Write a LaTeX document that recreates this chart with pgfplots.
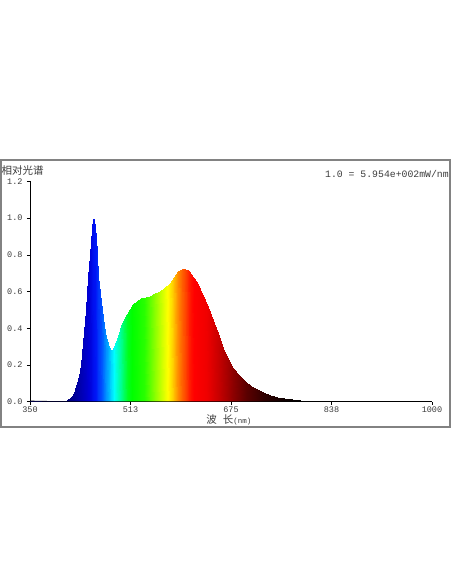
\documentclass[border=0pt]{standalone}
\usepackage{pgfplots}
\pgfplotsset{compat=1.18}
\usepackage{fontspec}
\setmonofont{Liberation Mono}
\newfontfamily\cjk{Noto Sans CJK SC}
\definecolor{txt}{RGB}{60,60,60}
\definecolor{frm}{RGB}{130,130,130}
\pgfplotsset{colormap={spectrum}{
 rgb255(350)=(0,0,100) rgb255(410)=(0,0,120) rgb255(430)=(0,0,170) rgb255(445)=(0,0,215)
 rgb255(455)=(0,20,245) rgb255(465)=(0,80,255) rgb255(472)=(0,140,255) rgb255(480)=(0,210,255)
 rgb255(486)=(0,255,255) rgb255(493)=(0,255,190) rgb255(500)=(0,255,110) rgb255(508)=(0,255,30)
 rgb255(515)=(0,255,0) rgb255(535)=(40,255,0) rgb255(550)=(130,255,0) rgb255(562)=(200,255,0)
 rgb255(572)=(255,255,0) rgb255(580)=(255,210,0) rgb255(588)=(255,150,0) rgb255(597)=(255,90,0)
 rgb255(607)=(255,30,0) rgb255(615)=(255,0,0) rgb255(635)=(240,0,0) rgb255(655)=(200,0,0)
 rgb255(675)=(150,0,0) rgb255(700)=(90,0,0) rgb255(730)=(45,0,0) rgb255(760)=(15,0,0)
 rgb255(790)=(0,0,0) rgb255(1000)=(0,0,0)}}
\pgfplotstableread{
x y
350 0
380 0
400 0
406 0
412 0
417 0
421 0
425 0
430 0
433 0
436 0
440.5 0
444.3 0
448 0
450.5 0
452.5 0
454 0
456 0
458 0
460.5 0
463 0
466 0
469.5 0
473 0
477 0
481 0
484 0
488 0
493 0
497 0
502 0
507 0
512 0
517 0
522.5 0
530 0
544 0
552 0
560 0
568 0
576 0
583 0
590 0
596 0
600 0
605 0
611 0
618 0
625 0
633 0
641 0
648 0
654.5 0
662.5 0
670 0
679 0
688 0
697.6 0
707 0
716.5 0
727 0
738 0
749 0
760 0
773 0
786 0
800 0
820 0
850 0
900 0
1000 0
350 0.004
380 0.002
400 0.002
406 0.006
412 0.012
417 0.025
421 0.046
425 0.085
430 0.14
433 0.2
436 0.318
440.5 0.5
444.3 0.682
448 0.864
450.5 0.95
452.5 0.995
454 0.995
456 0.9
458 0.80
460.5 0.682
463 0.59
466 0.5
469.5 0.41
473 0.355
477 0.30
481 0.278
484 0.285
488 0.315
493 0.36
497 0.41
502 0.45
507 0.48
512 0.505
517 0.53
522.5 0.548
530 0.563
544 0.578
552 0.59
560 0.603
568 0.625
576 0.648
583 0.68
590 0.71
596 0.722
600 0.722
605 0.715
611 0.695
618 0.66
625 0.615
633 0.555
641 0.49
648 0.43
654.5 0.375
662.5 0.29
670 0.235
679 0.185
688 0.145
697.6 0.113
707 0.088
716.5 0.067
727 0.052
738 0.038
749 0.027
760 0.019
773 0.013
786 0.009
800 0.006
820 0.004
850 0.003
900 0.002
1000 0.002
}\spec
\begin{document}
\begin{tikzpicture}
\useasboundingbox[fill=white] (0pt,0pt) rectangle (452pt,584pt);
\draw[frm, line width=1.2pt] (1pt,157pt) rectangle (450pt,424pt);
\begin{axis}[
  at={(30pt,182.3pt)}, anchor=south west,
  scale only axis, width=402pt, height=220.2pt,
  xmin=350, xmax=1000, ymin=0, ymax=1.2,
  axis x line*=bottom, axis y line*=left,
  axis line style={-, black, line width=0.8pt},
  tick align=outside, major tick length=3pt,
  tick style={black, line width=0.6pt},
  xtick={350,512.5,675,837.5,1000},
  xticklabels={350,513,675,838,1000},
  ytick={0,0.2,0.4,0.6,0.8,1.0,1.2},
  yticklabels={0.0,0.2,0.4,0.6,0.8,1.0,1.2},
  tick label style={font=\fontsize{8.5}{9}\selectfont\ttfamily, text=txt},
  xticklabel style={yshift=1.5pt},
  yticklabel style={xshift=-1pt},
  xlabel={{\cjk\fontsize{10.5}{11}\selectfont 波\hspace{6pt}长}{\ttfamily\fontsize{7.5}{8}\selectfont(nm)}},
  xlabel style={at={(rel axis cs:0.495,0)}, anchor=center, yshift=-18.3pt, text=txt, inner sep=0pt},
  colormap name=spectrum,
  point meta min=350, point meta max=1000,
  clip=true,
]
\addplot[surf, shader=interp, mesh/rows=2, point meta=\thisrow{x}] table[x=x,y=y] {\spec};
\addplot[black, line width=0.6pt] coordinates {(350,0.004) (380,0.002) (1000,0.002)};
\end{axis}
\node[anchor=west, inner sep=0pt, text=txt] at (1.5pt,414pt) {\cjk\fontsize{10.5}{11}\selectfont 相对光谱};
\node[anchor=west, inner sep=0pt, text=txt] at (325pt,409.5pt) {\ttfamily\fontsize{9.8}{10}\selectfont 1.0 = 5.954e+002mW/nm};
\end{tikzpicture}
\end{document}
